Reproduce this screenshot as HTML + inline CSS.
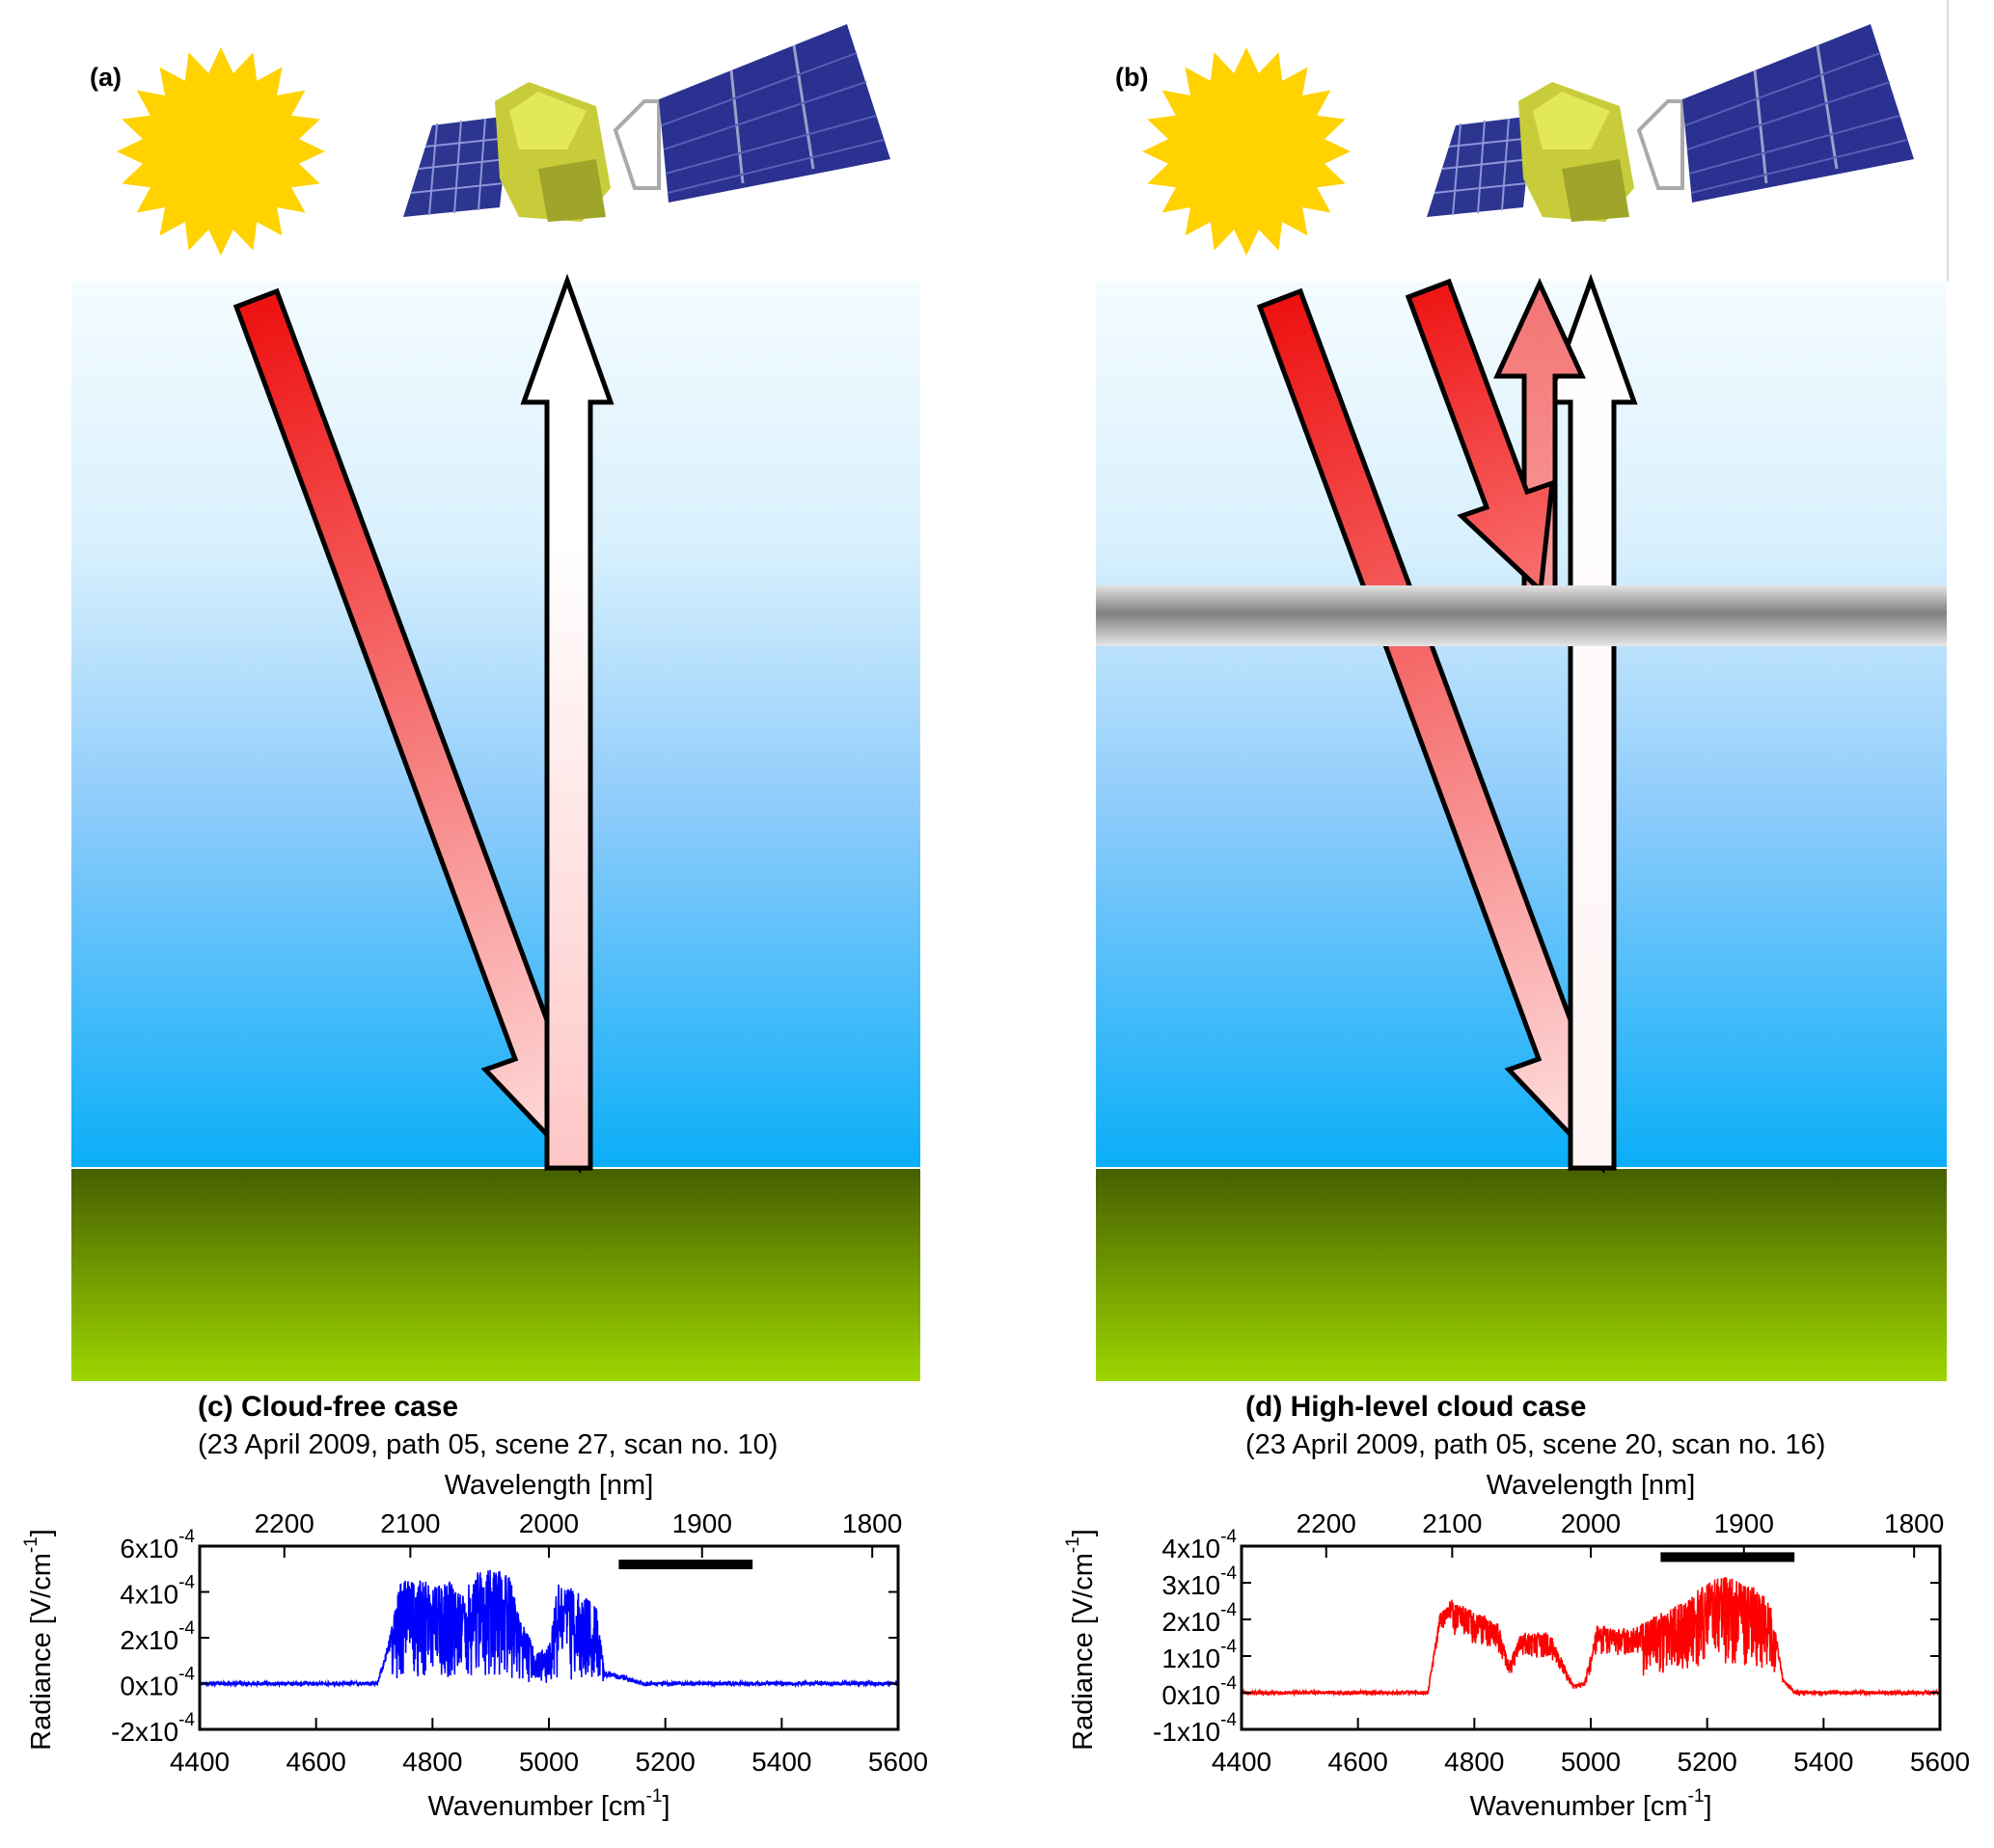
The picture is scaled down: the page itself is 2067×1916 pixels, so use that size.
<!DOCTYPE html>
<html><head><meta charset="utf-8"><style>
html,body{margin:0;padding:0;background:#fff;}
svg{display:block;font-family:"Liberation Sans",sans-serif;}
</style></head><body>
<svg id="s" width="2067" height="1916" viewBox="0 0 2067 1916" xmlns="http://www.w3.org/2000/svg">
<defs>
<linearGradient id="sky" x1="0" y1="0" x2="0" y2="1">
<stop offset="0" stop-color="#f4fcff"/><stop offset="0.3" stop-color="#d8f0fd"/><stop offset="0.6" stop-color="#8ccbfb"/><stop offset="1" stop-color="#0aaef8"/></linearGradient>
<linearGradient id="grd" x1="0" y1="0" x2="0" y2="1">
<stop offset="0" stop-color="#455f00"/><stop offset="1" stop-color="#9ed600"/></linearGradient>
<linearGradient id="cld" x1="0" y1="0" x2="0" y2="1">
<stop offset="0" stop-color="#e2e2e2"/><stop offset="0.45" stop-color="#808080"/><stop offset="0.6" stop-color="#9a9a9a"/><stop offset="1" stop-color="#e6e6e6"/></linearGradient>
<linearGradient id="ra" gradientUnits="userSpaceOnUse" x1="266" y1="310" x2="600" y2="1212">
<stop offset="0" stop-color="#ee1010"/><stop offset="1" stop-color="#ffe2e2"/></linearGradient>
<linearGradient id="rb" gradientUnits="userSpaceOnUse" x1="1327" y1="310" x2="1661" y2="1212">
<stop offset="0" stop-color="#ee1010"/><stop offset="1" stop-color="#ffe6e6"/></linearGradient>
<linearGradient id="rc" gradientUnits="userSpaceOnUse" x1="1481" y1="300" x2="1597" y2="612">
<stop offset="0" stop-color="#ee1515"/><stop offset="1" stop-color="#f87070"/></linearGradient>
<linearGradient id="wa" x1="0" y1="0" x2="0" y2="1">
<stop offset="0" stop-color="#ffffff"/><stop offset="0.3" stop-color="#fff"/><stop offset="1" stop-color="#ffc6c6"/></linearGradient>
<linearGradient id="wb" x1="0" y1="0" x2="0" y2="1">
<stop offset="0" stop-color="#ffffff"/><stop offset="1" stop-color="#fff4f4"/></linearGradient>
<linearGradient id="pk" x1="0" y1="0" x2="0" y2="1">
<stop offset="0" stop-color="#f47474"/><stop offset="1" stop-color="#f89a9a"/></linearGradient>
<g id="sat">
<polygon points="0,200 30,105 110,95 100,190" fill="#2c3590"/>
<g stroke="#8b95d8" stroke-width="2" fill="none">
<line x1="8" y1="175" x2="104" y2="165"/><line x1="16" y1="150" x2="107" y2="140"/><line x1="23" y1="127" x2="109" y2="118"/>
<line x1="35" y1="103" x2="27" y2="198"/><line x1="60" y1="100" x2="53" y2="196"/><line x1="85" y1="98" x2="78" y2="193"/>
</g>
<polygon points="95,80 130,60 200,85 215,170 185,205 120,200 100,160" fill="#c8cc3a"/>
<polygon points="110,90 140,70 190,90 170,130 120,130" fill="#e3e85a"/>
<polygon points="140,150 200,140 210,200 150,205" fill="#9fa52a"/>
<polygon points="220,110 250,80 265,80 265,170 240,170" fill="none" stroke="#aaa" stroke-width="4"/>
<polygon points="265,78 460,0 505,140 275,185" fill="#2a3190"/>
<g stroke="#9aa0c8" stroke-width="3" fill="none">
<line x1="340" y1="48" x2="352" y2="165"/><line x1="405" y1="22" x2="425" y2="150"/>
</g>
<g stroke="#5560b8" stroke-width="2" fill="none">
<line x1="268" y1="105" x2="470" y2="30"/><line x1="270" y1="130" x2="480" y2="60"/><line x1="272" y1="155" x2="490" y2="95"/><line x1="274" y1="175" x2="498" y2="120"/>
</g>
</g>
</defs>

<!-- panel a -->
<rect x="74" y="292" width="880" height="919" fill="url(#sky)"/>
<rect x="74" y="1211" width="880" height="221" fill="url(#grd)"/>
<line x1="74" y1="1211" x2="954" y2="1211" stroke="#fff" stroke-width="2"/>
<!-- panel b -->
<rect x="1136" y="292" width="882" height="919" fill="url(#sky)"/>
<rect x="1136" y="1211" width="882" height="221" fill="url(#grd)"/>
<line x1="1136" y1="1211" x2="2018" y2="1211" stroke="#fff" stroke-width="2"/>
<line x1="2019" y1="0" x2="2019" y2="292" stroke="#ddd" stroke-width="2"/>

<polygon id="sun1" fill="#ffd200"/>
<polygon id="sun2" fill="#ffd200"/>
<use href="#sat" transform="translate(418,25)"/>
<use href="#sat" transform="translate(1479,25)"/>
<text x="93" y="89" font-size="27" font-weight="bold">(a)</text>
<text x="1156" y="89" font-size="27" font-weight="bold">(b)</text>

<!-- arrows a -->
<polygon points="245,318 287,302 576,1082 607,1071 600,1211 503,1109 534,1098" fill="url(#ra)" stroke="#000" stroke-width="5"/>
<polygon points="567,1211 567,417 543,417 588,291 633,417 612,417 612,1211" fill="url(#wa)" stroke="#000" stroke-width="5" stroke-linejoin="miter"/>

<!-- arrows b -->
<polygon points="1306,318 1348,302 1637,1082 1668,1071 1661,1211 1564,1109 1595,1098" fill="url(#rb)" stroke="#000" stroke-width="5"/>
<polygon points="1628,1211 1628,417 1604,417 1649,291 1694,417 1673,417 1673,1211" fill="url(#wb)" stroke="#000" stroke-width="5"/>
<polygon points="1580,610 1580,390 1552,390 1596,294 1640,390 1612,390 1612,610" fill="url(#pk)" stroke="#000" stroke-width="5"/>
<polygon points="1460,308 1502,292 1583,510 1609,501 1597,612 1515,535 1541,526" fill="url(#rc)" stroke="#000" stroke-width="5"/>
<rect x="1136" y="607" width="882" height="63" fill="url(#cld)"/>

<!-- chart titles -->
<text x="205" y="1468" font-size="30" font-weight="bold">(c) Cloud-free case</text>
<text x="205" y="1507" font-size="29">(23 April 2009, path 05, scene 27, scan no. 10)</text>
<text x="1291" y="1468" font-size="30" font-weight="bold">(d) High-level cloud case</text>
<text x="1291" y="1507" font-size="29">(23 April 2009, path 05, scene 20, scan no. 16)</text>
<g id="charts"></g>
</svg>
<script>
var NS="http://www.w3.org/2000/svg",S=document.getElementById('s'),C=document.getElementById('charts');
function el(t,a,p,txt){var e=document.createElementNS(NS,t);for(var k in a)e.setAttribute(k,a[k]);if(txt!=null)e.textContent=txt;(p||C).appendChild(e);return e;}
function sun(id,cx,cy){var p=[],n=20;for(var i=0;i<2*n;i++){var r=i%2?82:108,a=i*Math.PI/n;p.push((cx+r*Math.sin(a)).toFixed(1)+','+(cy-r*Math.cos(a)).toFixed(1));}document.getElementById(id).setAttribute('points',p.join(' '));}
sun('sun1',229,157);sun('sun2',1292,157);
var seed=7;function rnd(){seed=(seed*16807)%2147483647;return (seed-1)/2147483646;}
function interp(pts,w){for(var i=1;i<pts.length;i++){if(w<=pts[i][0]){var a=pts[i-1],b=pts[i];return a[1]+(b[1]-a[1])*(w-a[0])/(b[0]-a[0]);}}return 0;}
function chart(x0,ymax,ymin,ticks,color,env,depthf,bar){
 var x1=x0+724,y0=1603,y1=1793;
 function X(w){return x0+(w-4400)/1200*724;}
 function Y(v){return y0+(ymax-v)/(ymax-ymin)*(y1-y0);}
 var d='';for(var w=4400;w<=5600;w+=0.5){var e=interp(env,w),dp=depthf(w);var v=e*(1-dp*Math.pow(rnd(),1.5))+(rnd()-0.5)*(ymax-ymin)*0.02;
  d+=(d?'L':'M')+X(w).toFixed(1)+' '+Y(v).toFixed(1);}
 el('path',{d:d,fill:'none',stroke:color,'stroke-width':1.6});
 el('rect',{x:x0,y:y0,width:724,height:190,fill:'none',stroke:'#000','stroke-width':3});
 el('rect',{x:X(5120),y:Y(bar)-5,width:X(5350)-X(5120),height:10,fill:'#000'});
 for(var w=4400;w<=5600;w+=200){var xx=X(w);el('line',{x1:xx,y1:y1,x2:xx,y2:y1-12,stroke:'#000','stroke-width':2});
  el('text',{x:xx,y:1836,'font-size':28,'text-anchor':'middle'},null,String(w));}
 [2200,2100,2000,1900,1800].forEach(function(nm){var xx=X(1e7/nm);el('line',{x1:xx,y1:y0,x2:xx,y2:y0+12,stroke:'#000','stroke-width':2});
  el('text',{x:xx,y:1589,'font-size':28,'text-anchor':'middle'},null,String(nm));});
 ticks.forEach(function(v){var yy=Y(v);el('line',{x1:x0,y1:yy,x2:x0+10,y2:yy,stroke:'#000','stroke-width':2});el('line',{x1:x1,y1:yy,x2:x1-10,y2:yy,stroke:'#000','stroke-width':2});
  var t=el('text',{x:x0-5,y:yy+12,'font-size':28,'text-anchor':'end'});
  el('tspan',{},t,v+'x10');el('tspan',{dy:-16,'font-size':19},t,'-4');});
 var cx=(x0+x1)/2;
 el('text',{x:cx,y:1549,'font-size':29,'text-anchor':'middle'},null,'Wavelength [nm]');
 var t2=el('text',{x:cx,y:1882,'font-size':29,'text-anchor':'middle'});
 el('tspan',{},t2,'Wavenumber [cm');el('tspan',{dy:-14,'font-size':19},t2,'-1');el('tspan',{dy:14},t2,']');
 var t3=el('text',{x:0,y:0,'font-size':29,'text-anchor':'middle',transform:'translate('+(x0-155)+',1700) rotate(-90)'});
 el('tspan',{},t3,'Radiance [V/cm');el('tspan',{dy:-14,'font-size':19},t3,'-1');el('tspan',{dy:14},t3,']');
}
chart(207,6,-2,[6,4,2,0,-2],'#0000ff',
 [[4400,0],[4705,0],[4725,1.8],[4745,4.5],[4830,4.4],[4850,3.8],[4880,5.0],[4930,4.9],[4950,2.8],[4980,1.3],[5000,1.6],[5015,4.3],[5060,3.9],[5085,3.4],[5095,0.5],[5140,0.2],[5160,0],[5600,0]],
 function(w){return (w>4730&&w<5095)?0.95:0.3;},5.2);
chart(1287,4,-1,[4,3,2,1,0,-1],'#ff0000',
 [[4400,0],[4720,0],[4740,2.1],[4760,2.5],[4800,2.2],[4840,1.9],[4860,0.8],[4880,1.6],[4930,1.6],[4950,0.9],[4970,0.2],[4990,0.3],[5010,1.8],[5060,1.7],[5090,1.9],[5150,2.4],[5220,3.2],[5280,2.9],[5310,2.4],[5330,0.4],[5350,0],[5600,0]],
 function(w){return (w>5090&&w<5320)?0.75:((w>4760&&w<5090)?0.4:0.2);},3.7);
</script>
</body></html>
